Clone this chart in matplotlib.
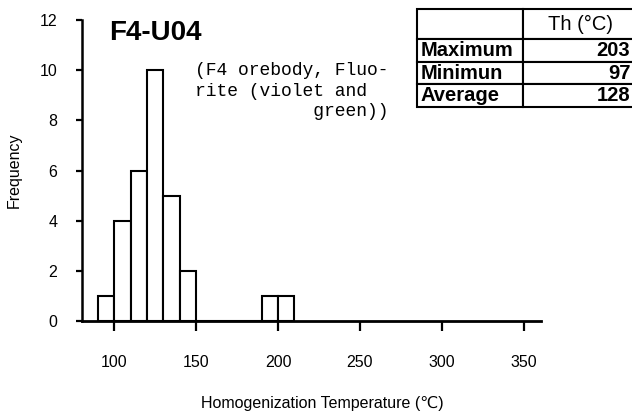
import matplotlib
matplotlib.use("Agg")
import matplotlib.pyplot as plt

plt.rcParams['font.family'] = ['Liberation Sans', 'DejaVu Sans']

# histogram of homogenization temperatures, 10 degree bins
bin_left = [90, 100, 110, 120, 130, 140, 150, 160, 170, 180, 190, 200]
counts = [1, 4, 6, 10, 5, 2, 0, 0, 0, 0, 1, 1]
bin_width = 10

x_ticks = [100, 150, 200, 250, 300, 350]
y_ticks = [0, 2, 4, 6, 8, 10, 12]

sample = 'F4-U04'
note = '(F4 orebody, Fluo-\nrite (violet and\n           green))'

table_rows = [['', 'Th (°C)'],
              ['Maximum', '203'],
              ['Minimun', '97'],
              ['Average', '128']]

fig = plt.figure(figsize=(6.32, 4.12), dpi=100)
ax = fig.add_axes([0.129, 0.221, 0.727, 0.730])

ax.bar(bin_left, counts, width=bin_width, align='edge',
       facecolor='white', edgecolor='black', linewidth=1.5)

ax.set_xlim(80, 360.5)
ax.set_ylim(0, 12)
ax.set_xticks(x_ticks)
ax.set_yticks(y_ticks)

for s in ['top', 'right']:
    ax.spines[s].set_visible(False)
ax.spines['left'].set_linewidth(1.8)
ax.spines['bottom'].set_linewidth(2.0)

ax.tick_params(axis='x', direction='out', length=7.5, width=1.6, pad=17, labelsize=11.5)
ax.tick_params(axis='y', direction='out', length=4.5, width=1.6, pad=13, labelsize=11.5)

ax.set_xlabel('Homogenization Temperature (℃)', fontsize=11.5)
ax.xaxis.set_label_coords(0.523, -0.249)
ax.set_ylabel('Frequency', fontsize=11.5)
ax.yaxis.set_label_coords(-0.130, 0.5)

ax.text(0.061, 0.957, sample, transform=ax.transAxes, fontsize=20,
        fontweight='bold', va='center', ha='left')
ax.text(0.246, 0.862, note, transform=ax.transAxes, fontsize=13,
        family='Liberation Mono', va='top', ha='left', linespacing=1.3)

# stats table in the top right corner, cut off by the figure edge
tax = fig.add_axes([0.660, 0.740, 0.350, 0.238])
tax.axis('off')
tbl = tax.table(cellText=table_rows, bbox=[0, 0, 1, 1])
tbl.auto_set_font_size(False)
tbl.set_fontsize(14.5)
row_h = [30, 23, 22, 23]
col_w = [0.48, 0.52]
for (r, c), cell in tbl.get_celld().items():
    cell.set_linewidth(1.5)
    cell.set_height(row_h[r])
    cell.set_width(col_w[c])
    txt = cell.get_text()
    if r == 0:
        cell._loc = 'center'
        txt.set_horizontalalignment('center')
    elif c == 0:
        cell._loc = 'left'
        cell.PAD = 0.03
        txt.set_horizontalalignment('left')
        txt.set_fontweight('bold')
    else:
        cell._loc = 'right'
        cell.PAD = 0.07
        txt.set_horizontalalignment('right')
        txt.set_fontweight('bold')

fig.savefig('out.png', dpi=100)
